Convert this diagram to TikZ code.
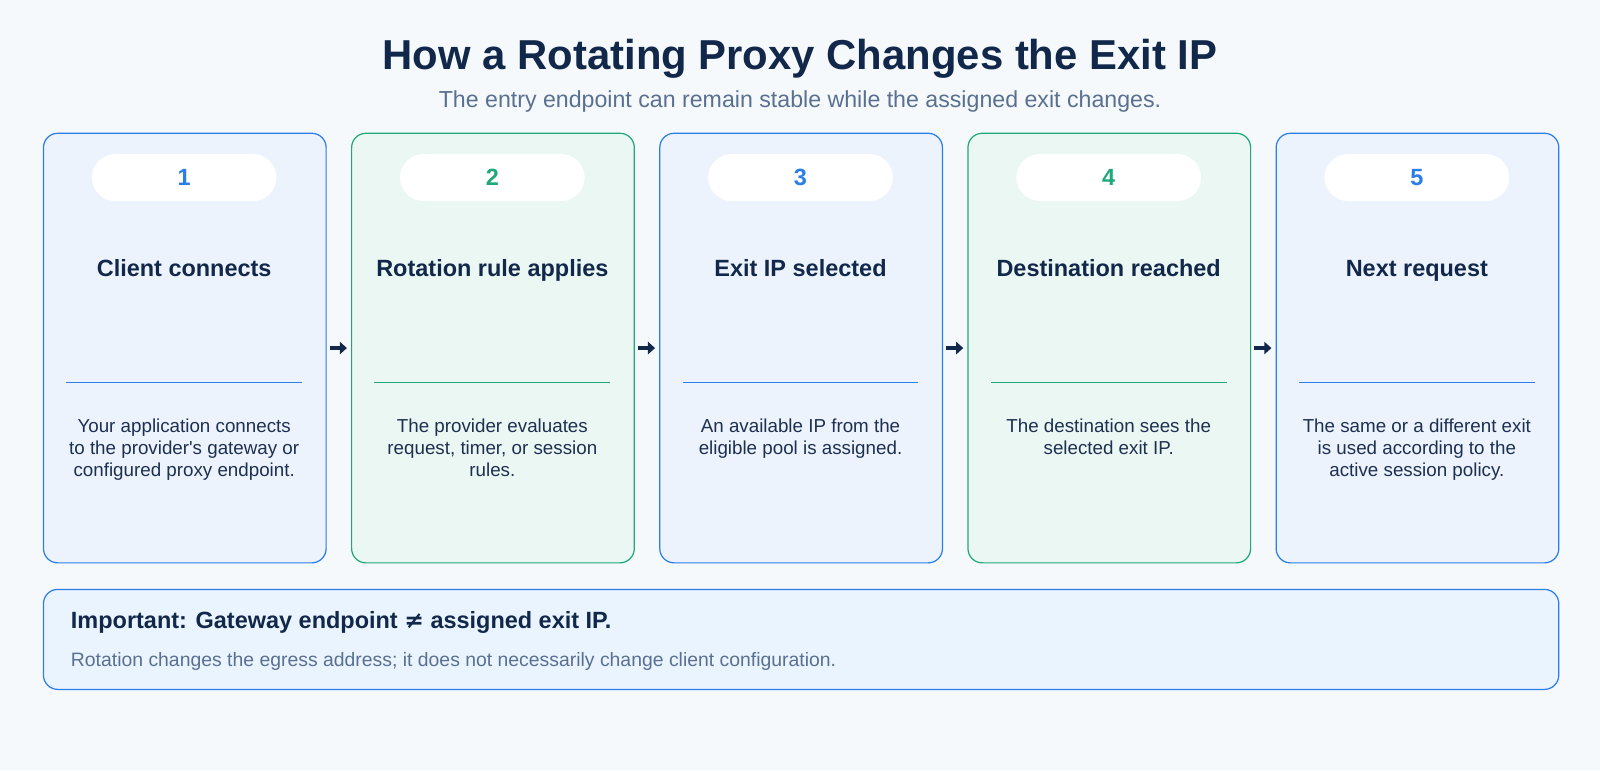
\documentclass[tikz,border=0pt]{standalone}
\usetikzlibrary{arrows.meta}
\usepackage{fontspec}
\setmainfont{Liberation Sans}
\newfontfamily\dejavu{DejaVu Sans}
\definecolor{bg}{HTML}{F6F9FC}
\definecolor{navy}{HTML}{12284A}
\definecolor{sub}{HTML}{5A7090}
\definecolor{bb}{HTML}{2B7DE9}
\definecolor{bf}{HTML}{EAF4FE}
\definecolor{gb}{HTML}{1FA97A}
\definecolor{txt}{HTML}{1E3050}
\begin{document}
\begin{tikzpicture}[x=1pt,y=-1pt,
 card/.style={draw=#1,line width=1.2pt,rounded corners=14pt,minimum width=277pt,minimum height=421pt,anchor=north west},
 pill/.style={fill=white,rounded corners=23pt,minimum width=181pt,minimum height=46pt,text=#1,font=\fontsize{23}{26}\selectfont\bfseries},
 head/.style={font=\fontsize{23}{26}\selectfont\bfseries,text=navy,anchor=base},
 body/.style={font=\fontsize{18.4}{21.6}\selectfont,text=txt,align=center,anchor=north},
 arr/.style={-{Triangle[length=7pt,width=12pt]},line width=3.5pt,navy}]
\fill[bg] (0,0) rectangle (1568,755);
\useasboundingbox (0,0) rectangle (1568,755);
\node[font=\fontsize{41}{44}\selectfont\bfseries,text=navy] (title) at (784,58) {How a Rotating Proxy Changes the Exit IP};
\node[font=\fontsize{22.7}{25}\selectfont,text=sub] (subt) at (784,99) {The entry endpoint can remain stable while the assigned exit changes.};
\foreach \i/\x/\c/\h/\t in {
 1/42/bb/Client connects/{Your application connects\\to the provider\textquotesingle s gateway or\\configured proxy endpoint.},
 2/344/gb/Rotation rule applies/{The provider evaluates\\request, timer, or session\\rules.},
 3/646/bb/Exit IP selected/{An available IP from the\\eligible pool is assigned.},
 4/948/gb/Destination reached/{The destination sees the\\selected exit IP.},
 5/1250/bb/Next request/{The same or a different exit\\is used according to the\\active session policy.}}{
 \node[card=\c,fill=\c!9!white] (c\i) at (\x,130) {};
 \node[pill=\c] (p\i) at (\x+138.5,174) {\i};
 \node[head] (h\i) at (\x+138.5,271) {\h};
 \draw[\c,line width=1.2pt] (\x+23,375) -- (\x+254,375);
 \node[body] (b\i) at (\x+138.5,407) {\t};
}
\foreach \a/\b in {1/2,2/3,3/4,4/5}{
 \draw[arr] ([xshift=3pt]c\a.east) -- ([xshift=-4pt]c\b.west);
}
\node[draw=bb,fill=bf,line width=1.2pt,rounded corners=14pt,minimum width=1485pt,minimum height=98pt,anchor=north west] (imp) at (42,577) {};
\node[anchor=west,font=\fontsize{23}{25}\selectfont\bfseries,text=navy] (it) at (66,610) {Important: Gateway endpoint {\dejavu ≠} assigned exit IP.};
\node[anchor=west,font=\fontsize{19}{21}\selectfont,text=sub] (is) at (66,648) {Rotation changes the egress address; it does not necessarily change client configuration.};
\end{tikzpicture}
\end{document}
